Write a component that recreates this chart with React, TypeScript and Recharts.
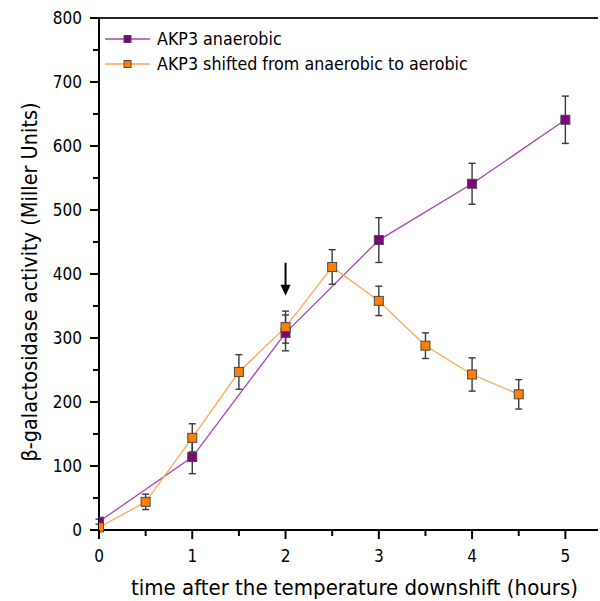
import {
  ErrorBar,
  Legend,
  Line,
  LineChart,
  ReferenceDot,
  ReferenceLine,
  XAxis,
  YAxis,
} from "recharts";

const FONT = "'DejaVu Sans Condensed', 'DejaVu Sans', sans-serif";

// anaerobic culture, sampled every hour
const anaerobicHours = [0, 1, 2, 3, 4, 5];
const anaerobicValues = [13, 114, 308, 453, 541, 641];
const anaerobicErrors = [4, 26, 28, 35, 32, 37];

// culture shifted to aerobic, sampled every half hour
const shiftedHours = [0, 0.5, 1, 1.5, 2, 2.5, 3, 3.5, 4, 4.5];
const shiftedValues = [4, 44, 144, 247, 317, 411, 358, 288, 243, 212];
const shiftedErrors = [0, 12, 22, 27, 25, 27, 23, 20, 26, 23];

const xTicks = [0, 0.5, 1, 1.5, 2, 2.5, 3, 3.5, 4, 4.5, 5];
const yTicks = [0, 50, 100, 150, 200, 250, 300, 350, 400, 450, 500, 550, 600, 650, 700, 750, 800];

// the arrow marks the moment of the shift
const shiftArrow = { hour: 2, value: 366 };

const anaerobicData = anaerobicHours.map((h, i) => ({
  hour: h,
  value: anaerobicValues[i],
  err: anaerobicErrors[i],
}));
const shiftedData = shiftedHours.map((h, i) => ({
  hour: h,
  value: shiftedValues[i],
  err: shiftedErrors[i],
}));

const SERIES = [
  { name: "AKP3 anaerobic", fill: "#800080", line: "#a745b5" },
  { name: "AKP3 shifted from anaerobic to aerobic", fill: "#ff8000", line: "#ffa64d" },
];

function SquareDot({ cx, cy, fill }: any) {
  if (cx == null || cy == null) return null;
  return (
    <rect x={cx - 4.5} y={cy - 4.5} width={9} height={9} fill={fill} stroke="#4a4a4a" strokeWidth={1} />
  );
}

function YTick({ x, y, payload }: any) {
  const major = payload.value % 100 === 0;
  return (
    <g>
      <line x1={x} x2={x - (major ? 9 : 6)} y1={y} y2={y} stroke="#000" strokeWidth={2} />
      {major && (
        <text x={x - 17} y={y} textAnchor="end" dominantBaseline="central" fontSize={17} fontFamily={FONT} fill="#000">
          {payload.value}
        </text>
      )}
    </g>
  );
}

function XTick({ x, y, payload }: any) {
  const major = payload.value % 1 === 0;
  return (
    <g>
      <line x1={x} x2={x} y1={y} y2={y + (major ? 9 : 6)} stroke="#000" strokeWidth={2} />
      {major && (
        <text x={x} y={y + 26} textAnchor="middle" dominantBaseline="central" fontSize={17} fontFamily={FONT} fill="#000">
          {payload.value}
        </text>
      )}
    </g>
  );
}

function YTitle({ viewBox }: any) {
  const cx = viewBox.x + 29;
  const cy = viewBox.y + viewBox.height / 2 + 8;
  return (
    <text
      x={cx}
      y={cy}
      transform={`rotate(-90 ${cx} ${cy})`}
      textAnchor="middle"
      dominantBaseline="central"
      fontSize={21.5}
      fontFamily={FONT}
      fill="#000"
    >
      β-galactosidase activity (Miller Units)
    </text>
  );
}

function XTitle({ viewBox }: any) {
  const cx = viewBox.x + viewBox.width / 2 + 6;
  return (
    <text x={cx} y={viewBox.y + 57} textAnchor="middle" dominantBaseline="central" fontSize={22} fontFamily={FONT} fill="#000">
      time after the temperature downshift (hours)
    </text>
  );
}

function Arrow({ cx, cy }: any) {
  if (cx == null || cy == null) return null;
  return (
    <g>
      <line x1={cx} x2={cx} y1={cy - 33} y2={cy - 9} stroke="#000" strokeWidth={2} />
      <polygon points={`${cx - 5},${cy - 11} ${cx + 5},${cy - 11} ${cx},${cy}`} fill="#000" />
    </g>
  );
}

function LegendBox() {
  return (
    <div style={{ fontFamily: FONT, fontSize: 17.7, color: "#000" }}>
      {SERIES.map((s) => (
        <div key={s.name} style={{ display: "flex", alignItems: "center", height: 24.5 }}>
          <svg width={53} height={12} style={{ display: "block" }}>
            <line x1={1} x2={46} y1={6} y2={6} stroke={s.line} strokeWidth={1.3} />
            <rect x={20} y={2.5} width={7} height={7} fill={s.fill} stroke="#4a4a4a" strokeWidth={1} />
          </svg>
          <span style={{ whiteSpace: "nowrap" }}>{s.name}</span>
        </div>
      ))}
    </div>
  );
}

export default function App() {
  return (
    <div style={{ position: "absolute", left: 0, top: 0, background: "#fff" }}>
      <LineChart width={600} height={601} margin={{ top: 18, right: 2, bottom: 0, left: 0 }}>
        <XAxis
          type="number"
          dataKey="hour"
          domain={[0, 5.35]}
          ticks={xTicks}
          allowDataOverflow
          axisLine={{ stroke: "#000", strokeWidth: 2 }}
          tickLine={false}
          tickSize={0}
          tickMargin={0}
          tick={<XTick />}
          height={71}
          interval={0}
          label={<XTitle />}
        />
        <YAxis
          type="number"
          domain={[0, 800]}
          ticks={yTicks}
          axisLine={{ stroke: "#000", strokeWidth: 2 }}
          tickLine={false}
          tickSize={0}
          tickMargin={0}
          tick={<YTick />}
          width={99}
          interval={0}
          label={<YTitle />}
        />
        <ReferenceLine y={800} stroke="#222" strokeWidth={2} />
        <Legend
          layout="vertical"
          align="center"
          verticalAlign="middle"
          content={<LegendBox />}
          wrapperStyle={{ left: 104, top: 27, width: "auto", height: "auto" }}
        />
        <Line
          data={anaerobicData}
          dataKey="value"
          name={SERIES[0].name}
          stroke={SERIES[0].line}
          strokeWidth={1.3}
          dot={<SquareDot fill={SERIES[0].fill} />}
          activeDot={false}
          isAnimationActive={false}
        >
          <ErrorBar dataKey="err" width={3.5} stroke="#3a3a3a" strokeWidth={1.4} direction="y" />
        </Line>
        <Line
          data={shiftedData}
          dataKey="value"
          name={SERIES[1].name}
          stroke={SERIES[1].line}
          strokeWidth={1.3}
          dot={<SquareDot fill={SERIES[1].fill} />}
          activeDot={false}
          isAnimationActive={false}
        >
          <ErrorBar dataKey="err" width={3.5} stroke="#3a3a3a" strokeWidth={1.4} direction="y" />
        </Line>
        <ReferenceDot x={shiftArrow.hour} y={shiftArrow.value} shape={<Arrow />} />
      </LineChart>
    </div>
  );
}
